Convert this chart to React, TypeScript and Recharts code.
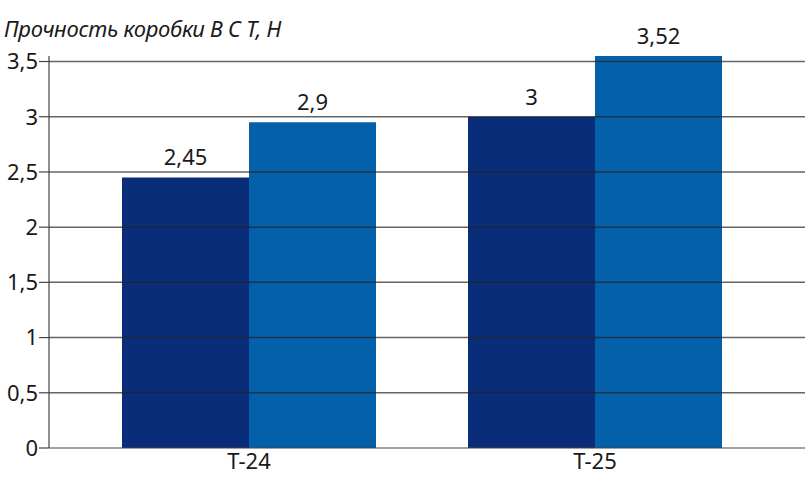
import React from 'react';
import { BarChart, Bar, XAxis, YAxis, ReferenceLine, LabelList } from 'recharts';

const categories = ['T-24', 'T-25'];
const darkValues = [2.45, 3.0];
const lightValues = [2.95, 3.55];
const darkLabels = ['2,45', '3'];
const lightLabels = ['2,9', '3,52'];
const yTicks = [0, 0.5, 1, 1.5, 2, 2.5, 3, 3.5];
const title = 'Прочность коробки В С Т, Н';

const data = categories.map((c, i) => ({
  name: c,
  dark: darkValues[i],
  light: lightValues[i],
  darkLabel: darkLabels[i],
  lightLabel: lightLabels[i],
}));

const FONT = '"Noto Sans", sans-serif';
const fmt = (v: number) => String(v).replace('.', ',');

export default function App() {
  return (
    <div style={{ position: 'absolute', left: 0, top: 0, width: 805, height: 500, background: '#fff', fontFamily: FONT }}>
      <div style={{ position: 'absolute', left: 4, top: 13, fontSize: 22, fontStyle: 'italic', color: '#1a1a1a', whiteSpace: 'nowrap', letterSpacing: -0.3 }}>
        {title}
      </div>
      <BarChart
        width={805}
        height={500}
        data={data}
        margin={{ top: 56, right: 0, bottom: 0, left: 0 }}
        barCategoryGap={46}
        barGap={0}
      >
        <XAxis
          dataKey="name"
          height={52}
          padding={{ left: 27, right: 37 }}
          tickLine={false}
          tickSize={0}
          tickMargin={5}
          axisLine={{ stroke: '#444', strokeWidth: 1.2 }}
          tick={{ fill: '#1a1a1a', fontSize: 22, fontFamily: FONT }}
        />
        <YAxis
          width={49}
          domain={[0, 3.5]}
          ticks={yTicks}
          interval={0}
          tickFormatter={fmt}
          tickSize={10}
          tickMargin={1}
          axisLine={{ stroke: '#444', strokeWidth: 1.2 }}
          tickLine={{ stroke: '#444', strokeWidth: 1.2 }}
          tick={{ fill: '#1a1a1a', fontSize: 22, fontFamily: FONT }}
        />
        <Bar dataKey="dark" fill="#0a2d7a" isAnimationActive={false}>
          <LabelList dataKey="darkLabel" position="top" offset={12} fill="#1a1a1a" fontSize={22} fontFamily={FONT} />
        </Bar>
        <Bar dataKey="light" fill="#0560aa" isAnimationActive={false}>
          <LabelList dataKey="lightLabel" position="top" offset={12} fill="#1a1a1a" fontSize={22} fontFamily={FONT} />
        </Bar>
        {yTicks.filter((t) => t > 0).map((t) => (
          <ReferenceLine key={t} y={t} stroke="#222" strokeOpacity={0.7} strokeWidth={1.5} />
        ))}
      </BarChart>
    </div>
  );
}
